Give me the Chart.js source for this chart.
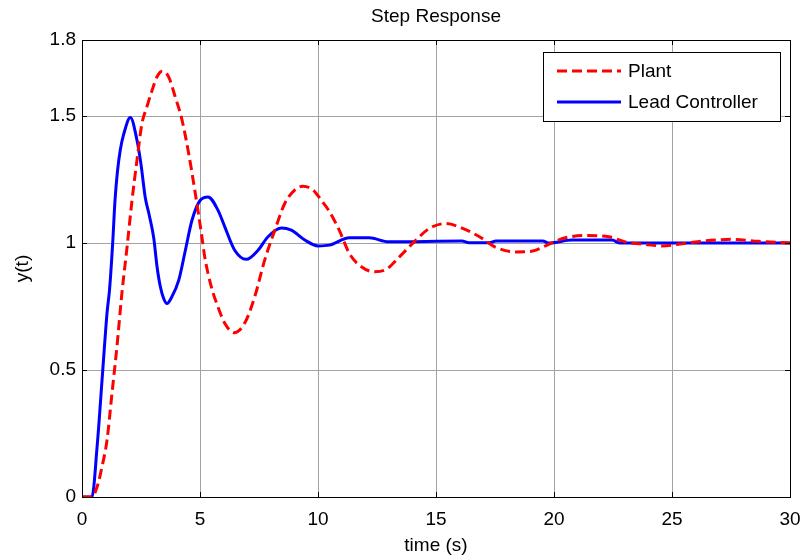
<!DOCTYPE html>
<html>
<head>
<meta charset="utf-8">
<title>Step Response</title>
<script src="https://cdn.jsdelivr.net/npm/chart.js@4.4.1/dist/chart.umd.min.js"></script>
<style>
  html, body { margin: 0; padding: 0; background: #fff; }
  #wrap { width: 803px; height: 558px; }
</style>
</head>
<body>
<div id="wrap"><canvas id="stepChart" width="803" height="558"></canvas></div>
<script>
// step response samples, time in seconds
const plantTime = [0, 0.42, 0.64, 0.85, 1.06, 1.27, 1.48, 1.69, 1.91, 2.12, 2.33, 2.54, 2.75, 2.97, 3.18, 3.39, 3.67, 3.95, 4.24, 4.52, 4.8, 5.08, 5.2, 5.48, 5.76, 6.05, 6.44, 6.89, 7.32, 7.74, 8.17, 8.59, 9.01, 9.36, 9.79, 10.17, 10.48, 10.9, 11.33, 11.75, 12.39, 12.88, 13.45, 14.15, 14.72, 15.42, 16.13, 16.84, 17.54, 18.39, 19.1, 19.8, 20.48, 21.33, 22.32, 23.02, 23.87, 24.58, 25.56, 26.41, 27.54, 28.67, 30];
const plantY = [0, 0, 0.04, 0.12, 0.224, 0.408, 0.592, 0.802, 0.985, 1.169, 1.327, 1.471, 1.537, 1.602, 1.655, 1.677, 1.655, 1.576, 1.484, 1.353, 1.196, 1.025, 0.946, 0.828, 0.749, 0.684, 0.647, 0.684, 0.789, 0.933, 1.051, 1.156, 1.209, 1.224, 1.209, 1.165, 1.125, 1.051, 0.959, 0.913, 0.887, 0.896, 0.946, 1.012, 1.058, 1.077, 1.058, 1.025, 0.983, 0.965, 0.969, 0.996, 1.021, 1.03, 1.025, 1.005, 0.995, 0.989, 0.999, 1.009, 1.015, 1.007, 1.0];

const leadTime = [0, 0.42, 0.64, 0.88, 1.06, 1.17, 1.3, 1.4, 1.5, 1.62, 1.77, 2.05, 2.33, 2.5, 2.68, 2.85, 3.04, 3.18, 3.32, 3.46, 3.6, 3.81, 4.1, 4.38, 4.66, 5.01, 5.34, 5.76, 6.05, 6.47, 6.96, 7.46, 7.88, 8.45, 8.87, 9.44, 10.0, 10.48, 11.33, 12.17, 13.0, 16.1, 16.4, 17.26, 17.54, 19.52, 19.8, 20.76, 22.46, 22.8, 30];
const leadY = [0, 0, 0.198, 0.5, 0.724, 0.82, 1.0, 1.17, 1.28, 1.366, 1.43, 1.495, 1.405, 1.31, 1.18, 1.11, 1.02, 0.907, 0.828, 0.782, 0.762, 0.789, 0.854, 0.972, 1.09, 1.169, 1.182, 1.13, 1.064, 0.972, 0.936, 0.972, 1.025, 1.06, 1.051, 1.012, 0.989, 0.992, 1.021, 1.021, 1.005, 1.008, 1.001, 1.001, 1.008, 1.008, 1.0, 1.012, 1.012, 1.0, 1.0];

const seriesNames = ['Plant', 'Lead Controller'];
const xTicks = [0, 5, 10, 15, 20, 25, 30];
const yTicks = [0, 0.5, 1, 1.5, 1.8];

const FONT = "'Liberation Sans', Arial, sans-serif";
const GRID = '#a3a3a3';

function toPoints(ts, ys) {
  return ts.map((t, i) => ({ x: t, y: ys[i] }));
}

// box, inward tick marks, title and legend drawn the MATLAB way
const axesBox = {
  id: 'axesBox',
  afterDatasetsDraw(chart) {
    const { ctx, chartArea: a, scales } = chart;
    ctx.save();
    ctx.strokeStyle = '#000';
    ctx.lineWidth = 1;
    ctx.beginPath();
    xTicks.forEach(v => {
      const x = Math.round(scales.x.getPixelForValue(v)) + 0.5;
      ctx.moveTo(x, a.bottom); ctx.lineTo(x, a.bottom - 5);
      ctx.moveTo(x, a.top); ctx.lineTo(x, a.top + 5);
    });
    yTicks.forEach(v => {
      const y = Math.round(scales.y.getPixelForValue(v)) + 0.5;
      ctx.moveTo(a.left, y); ctx.lineTo(a.left + 5, y);
      ctx.moveTo(a.right, y); ctx.lineTo(a.right - 5, y);
    });
    ctx.stroke();
    ctx.strokeRect(Math.round(a.left) + 0.5, Math.round(a.top) + 0.5,
      Math.round(a.right - a.left), Math.round(a.bottom - a.top));
    ctx.restore();
  },
  afterDraw(chart) {
    const { ctx, chartArea: a } = chart;
    ctx.save();
    ctx.fillStyle = '#000';
    ctx.font = '19px ' + FONT;
    ctx.textAlign = 'center';
    ctx.textBaseline = 'middle';
    ctx.fillText('Step Response', (a.left + a.right) / 2, 17);

    // legend
    const bx = 543.5, by = 52.5, bw = 237, bh = 69;
    ctx.fillStyle = '#fff';
    ctx.fillRect(bx, by, bw, bh);
    ctx.strokeStyle = '#000';
    ctx.lineWidth = 1;
    ctx.strokeRect(bx, by, bw, bh);
    const rows = [71, 102];
    chart.data.datasets.forEach((ds, i) => {
      const y = rows[i];
      ctx.strokeStyle = ds.borderColor;
      ctx.lineWidth = ds.borderWidth;
      ctx.setLineDash(ds.borderDash || []);
      ctx.beginPath();
      ctx.moveTo(557, y);
      ctx.lineTo(621, y);
      ctx.stroke();
      ctx.setLineDash([]);
      ctx.fillStyle = '#000';
      ctx.textAlign = 'left';
      ctx.fillText(ds.label, 628, y + 1);
    });
    ctx.restore();
  }
};

const chart = new Chart(document.getElementById('stepChart'), {
  type: 'line',
  data: {
    datasets: [
      {
        label: seriesNames[0],
        data: toPoints(plantTime, plantY),
        borderColor: '#ff0000',
        borderWidth: 3,
        borderDash: [10, 5],
        pointRadius: 0,
        cubicInterpolationMode: 'monotone'
      },
      {
        label: seriesNames[1],
        data: toPoints(leadTime, leadY),
        borderColor: '#0000ff',
        borderWidth: 3,
        pointRadius: 0,
        cubicInterpolationMode: 'monotone'
      }
    ]
  },
  options: {
    responsive: false,
    animation: false,
    layout: { padding: { left: 0, right: 13, top: 40, bottom: 0 } },
    plugins: {
      legend: { display: false },
      title: { display: false },
      tooltip: { enabled: false }
    },
    scales: {
      x: {
        type: 'linear',
        min: 0,
        max: 30,
        afterBuildTicks: s => { s.ticks = xTicks.map(v => ({ value: v })); },
        afterFit: s => { s.height = 61; s.paddingLeft = 0; s.paddingRight = 0; },
        grid: { color: GRID, drawTicks: false },
        border: { display: false },
        ticks: { color: '#000', padding: 11, font: { family: FONT, size: 19 }, callback: v => String(v) },
        title: { display: true, text: 'time (s)', color: '#000', padding: { top: 0, bottom: 1 }, font: { family: FONT, size: 19 } }
      },
      y: {
        min: 0,
        max: 1.8,
        afterBuildTicks: s => { s.ticks = yTicks.map(v => ({ value: v })); },
        afterFit: s => { s.width = 82; s.paddingTop = 0; s.paddingBottom = 0; },
        grid: { color: GRID, drawTicks: false },
        border: { display: false },
        ticks: { color: '#000', padding: 6, font: { family: FONT, size: 19 }, callback: v => String(v) },
        title: { display: true, text: 'y(t)', color: '#000', padding: { top: 11, bottom: 0 }, font: { family: FONT, size: 19 } }
      }
    }
  },
  plugins: [axesBox]
});
</script>
</body>
</html>
